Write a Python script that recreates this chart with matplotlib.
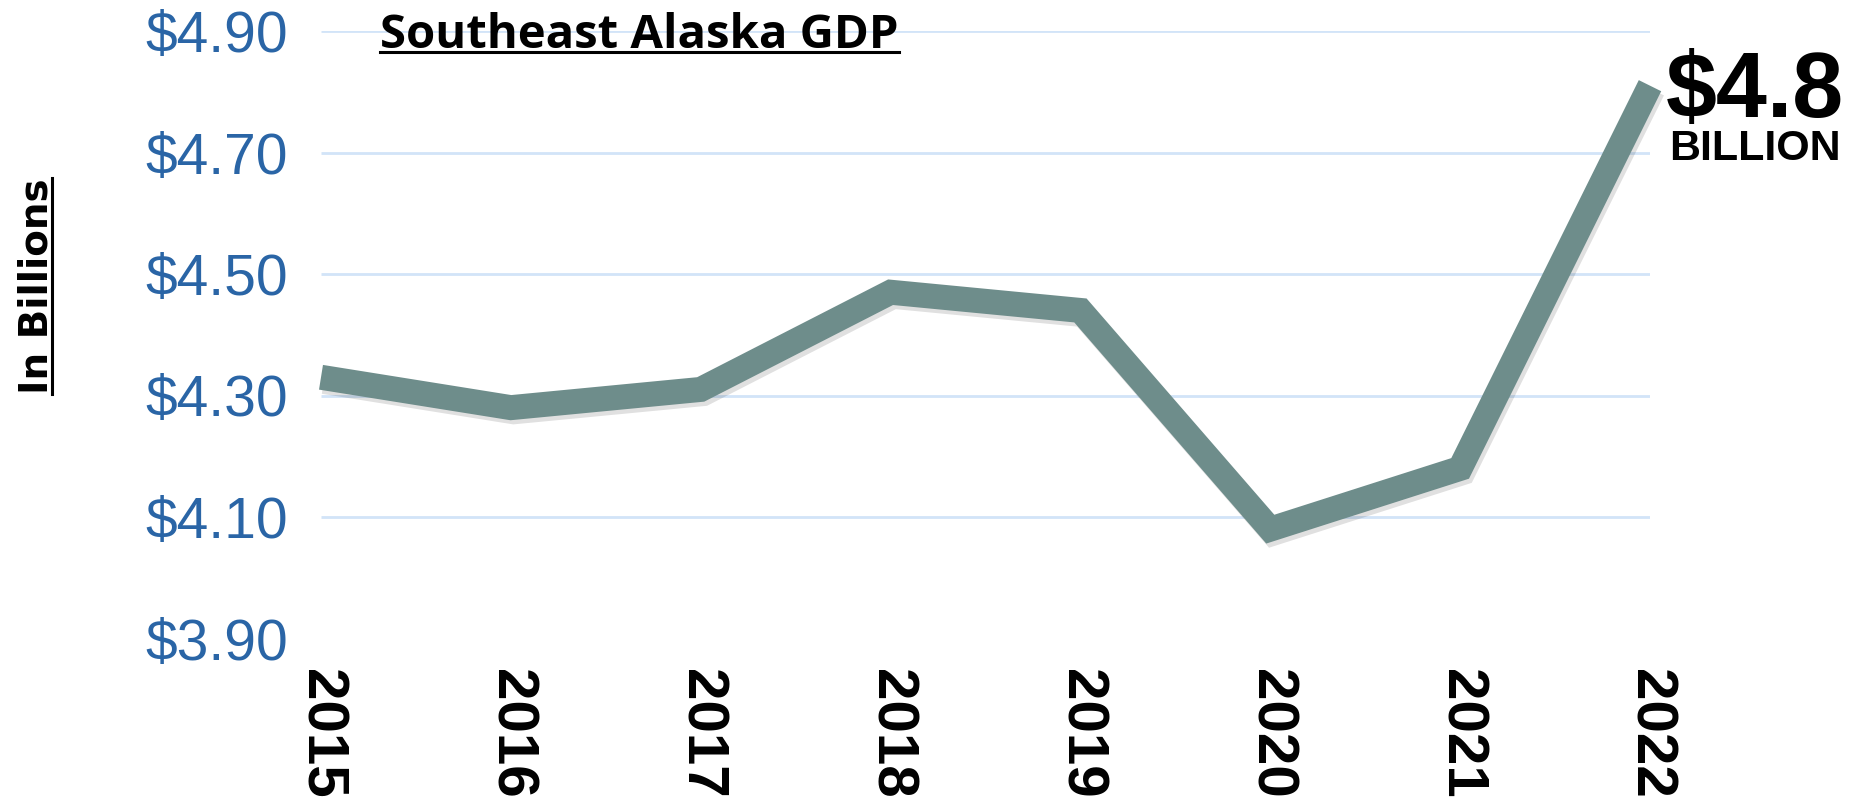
import matplotlib
matplotlib.use("Agg")
import matplotlib.pyplot as plt
import matplotlib.patheffects as pe
from matplotlib.lines import Line2D

# data (billions of dollars)
years = [2015, 2016, 2017, 2018, 2019, 2020, 2021, 2022]
gdp = [4.33, 4.28, 4.31, 4.47, 4.44, 4.08, 4.18, 4.81]
yticks = [3.90, 4.10, 4.30, 4.50, 4.70, 4.90]
ytick_labels = ["$3.90", "$4.10", "$4.30", "$4.50", "$4.70", "$4.90"]

W, H = 1853, 799
fig = plt.figure(figsize=(W / 100, H / 100), dpi=100)
ax = fig.add_axes([321 / W, 1 - 638.5 / H, (1650 - 321) / W, (638.5 - 31) / H])

# grid lines (none on the bottom value)
ax.hlines(yticks[1:], years[0], years[-1], colors="#d2e4f8", linewidth=2, zorder=1)

ax.plot(years, gdp, color="#6e8d8b", linewidth=18, solid_joinstyle="miter",
        solid_capstyle="butt", clip_on=False, zorder=3,
        path_effects=[pe.SimpleLineShadow(offset=(2, -3), shadow_color="black", alpha=0.12),
                      pe.Normal()])

ax.set_xlim(years[0], years[-1])
ax.set_ylim(yticks[0], yticks[-1])
for s in ax.spines.values():
    s.set_visible(False)

ax.set_yticks(yticks)
ax.set_yticklabels(ytick_labels, fontsize=41, color="#2a65a6",
                   family=["Liberation Sans", "DejaVu Sans"])
ax.set_xticks(years)
ax.set_xticklabels([str(y) for y in years], rotation=270, fontsize=42,
                   fontweight="bold", family=["Liberation Sans", "DejaVu Sans"])
ax.tick_params(axis="y", length=0, pad=24)
ax.tick_params(axis="x", length=0, pad=22)

# title
title = fig.text(380 / W, 1 - 48 / H, "Southeast Alaska GDP", fontsize=34,
                 fontweight="bold", family=["Open Sans", "DejaVu Sans"],
                 ha="left", va="baseline")

# y label
ylab = fig.text(48 / W, 1 - 286 / H, "In Billions", fontsize=28, fontweight="bold",
                family=["DejaVu Sans"], rotation=90, rotation_mode="anchor",
                ha="center", va="baseline")

# value callout
fig.text(1666 / W, 1 - 117 / H, "$4.8", fontsize=66, fontweight="bold",
         family=["Liberation Sans", "DejaVu Sans"], ha="left", va="baseline")
fig.text(1669 / W, 1 - 160 / H, "BILLION", fontsize=31, fontweight="bold",
         family=["Liberation Sans", "DejaVu Sans"], ha="left", va="baseline")

# underlines
fig.canvas.draw()
r = fig.canvas.get_renderer()
tb = title.get_window_extent(r)
fig.add_artist(Line2D([tb.x0 / W, tb.x1 / W], [(H - 52) / H, (H - 52) / H],
                      color="black", linewidth=2.2, transform=fig.transFigure))
lb = ylab.get_window_extent(r)
fig.add_artist(Line2D([51.5 / W, 51.5 / W], [lb.y0 / H, lb.y1 / H],
                      color="black", linewidth=2.2, transform=fig.transFigure))

fig.savefig("out.png", dpi=100)
